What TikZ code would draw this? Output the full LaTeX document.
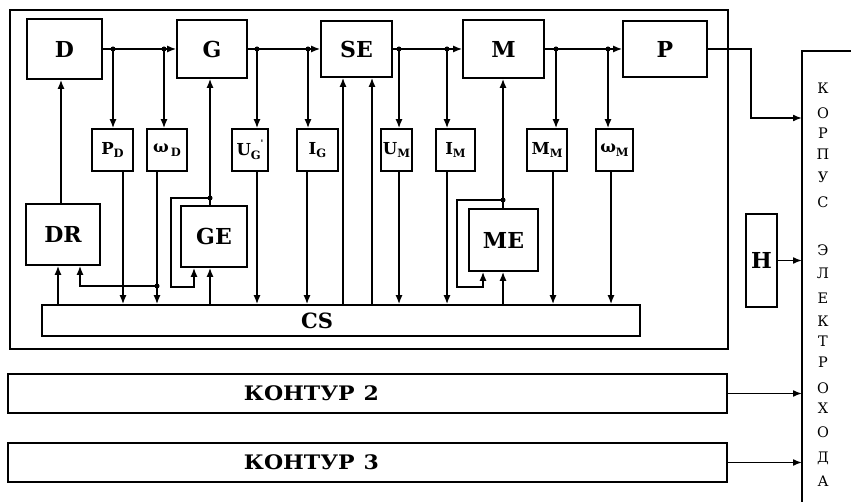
\documentclass[tikz,border=0pt]{standalone}
\usepackage{fontspec}
\setmainfont{DejaVu Serif}
\newfontfamily\lblfont{DejaVu Serif}
\newfontfamily\kontfont{DejaVu Serif}[FakeStretch=1.1]
\newfontfamily\korpfont{DejaVu Serif}
\usetikzlibrary{arrows.meta}
\newcommand\mysub[1]{\raisebox{-0.45ex}{\fontsize{11.5}{11.5}\selectfont #1}}
\tikzset{
  ln/.style={line width=1.6pt},
  arr/.style={ln, -{Latex[length=9pt,width=7pt]}},
  bigbox/.style={draw, ln, inner sep=0pt, font=\fontsize{22}{22}\selectfont\lblfont\bfseries},
  smallbox/.style={draw, ln, inner sep=0pt, minimum height=42pt, font=\fontsize{16.5}{16.5}\selectfont\lblfont\bfseries},
  longbox/.style={draw, ln, inner sep=0pt, minimum width=719pt, minimum height=39pt},
  konttext/.style={inner sep=0pt, font=\fontsize{20}{20}\selectfont\kontfont\bfseries},
  dot/.style={circle, fill, inner sep=0pt, minimum size=5pt},
  letter/.style={inner sep=0pt, anchor=base, font=\fontsize{14.5}{14.5}\selectfont\korpfont},
}
\begin{document}
\begin{tikzpicture}[x=1pt,y=-1pt]
\useasboundingbox[fill=white] (0,0) rectangle (851,502);

% outer frame of contour 1
\draw[ln] (10,10) rectangle (728,349);

% top chain
\node[bigbox, minimum width=75pt, minimum height=60pt] (D)  at (64.5,49) {D};
\node[bigbox, minimum width=70pt, minimum height=58pt] (G)  at (212,49) {G};
\node[bigbox, minimum width=71pt, minimum height=56pt] (SE) at (356.5,49) {SE};
\node[bigbox, minimum width=81pt, minimum height=58pt] (M)  at (503.5,49) {M};
\node[bigbox, minimum width=84pt, minimum height=56pt] (P)  at (665,49) {P};

% sensor boxes
\node[smallbox, minimum width=41pt] (PD) at (112.5,150) {P\mysub{D}};
\node[smallbox, minimum width=40pt] (WD) at (167,150) {ω\hspace{2pt}\mysub{D}};
\node[smallbox, minimum width=36pt] (UG) at (250,150) {U\mysub{G}\raisebox{1.1ex}{\fontsize{9}{9}\selectfont'}};
\node[smallbox, minimum width=41pt] (IG) at (317.5,150) {I\mysub{G}};
\node[smallbox, minimum width=31pt] (UM) at (396.5,150) {U\mysub{M}};
\node[smallbox, minimum width=39pt] (IM) at (455.5,150) {I\mysub{M}};
\node[smallbox, minimum width=40pt] (MM) at (547,150) {M\mysub{M}};
\node[smallbox, minimum width=37pt] (WM) at (614.5,150) {ω\mysub{M}};

% lower blocks
\node[bigbox, minimum width=74pt, minimum height=61pt] (DR) at (63,234.5) {DR};
\node[bigbox, minimum width=66pt, minimum height=61pt] (GE) at (214,236.5) {GE};
\node[bigbox, minimum width=69pt, minimum height=62pt] (ME) at (503.5,240) {ME};

% control system
\node[draw, ln, inner sep=0pt, minimum width=598pt, minimum height=31pt] (CS) at (341,320.5) {};
\node[inner sep=0pt, font=\fontsize{21}{21}\selectfont\lblfont\bfseries] (CSt) at (317,321) {CS};

% column coordinates
\coordinate (cPDo) at (123,0);
\coordinate (cWDo) at (157,0);
\coordinate (cUG)  at (257,0);
\coordinate (cIGo) at (307,0);
\coordinate (cUM)  at (399,0);
\coordinate (cIM)  at (447,0);
\coordinate (cMMo) at (553,0);
\coordinate (cWMo) at (611,0);
\coordinate (cDR1) at (58,0);
\coordinate (cDR2) at (80,0);
\coordinate (cDRD) at (61,0);
\coordinate (cSE1) at (343,0);
\coordinate (cSE2) at (372,0);

% main power chain
\draw[arr] (D.east) -- (G.west);
\draw[arr] (G.east) -- (SE.west);
\draw[arr] (SE.east) -- (M.west);
\draw[arr] (M.east) -- (P.west);

% branch dots on the chain
\node[dot] (bPD) at (113,49) {};
\node[dot] (bWD) at (164,49) {};
\node[dot] (bUG) at (257,49) {};
\node[dot] (bIG) at (308,49) {};
\node[dot] (bUM) at (399,49) {};
\node[dot] (bIM) at (447,49) {};
\node[dot] (bMM) at (556,49) {};
\node[dot] (bWM) at (608,49) {};

\draw[arr] (bPD.center) -- (PD.north -| bPD);
\draw[arr] (bWD.center) -- (WD.north -| bWD);
\draw[arr] (bUG.center) -- (UG.north -| bUG);
\draw[arr] (bIG.center) -- (IG.north -| bIG);
\draw[arr] (bUM.center) -- (UM.north -| bUM);
\draw[arr] (bIM.center) -- (IM.north -| bIM);
\draw[arr] (bMM.center) -- (MM.north -| bMM);
\draw[arr] (bWM.center) -- (WM.north -| bWM);

% sensor outputs to CS
\draw[arr] (PD.south -| cPDo) -- (CS.north -| cPDo);
\draw[arr] (WD.south -| cWDo) -- (CS.north -| cWDo);
\draw[arr] (UG.south -| cUG)  -- (CS.north -| cUG);
\draw[arr] (IG.south -| cIGo) -- (CS.north -| cIGo);
\draw[arr] (UM.south -| cUM)  -- (CS.north -| cUM);
\draw[arr] (IM.south -| cIM)  -- (CS.north -| cIM);
\draw[arr] (MM.south -| cMMo) -- (CS.north -| cMMo);
\draw[arr] (WM.south -| cWMo) -- (CS.north -| cWMo);

% DR
\draw[arr] (CS.north -| cDR1) -- (DR.south -| cDR1);
\node[dot] (bWDr) at (157,286) {};
\draw[arr] (bWDr.center) -- (bWDr -| cDR2) -- (DR.south -| cDR2);
\draw[arr] (DR.north -| cDRD) -- (D.south -| cDRD);

% GE
\node[dot] (bGE) at (210,198) {};
\coordinate (gl1) at (171,287);
\coordinate (gl2) at (194,287);
\draw[ln] (GE.north -| bGE) -- (bGE.center);
\draw[arr] (bGE.center) -- (G.south -| bGE);
\draw[arr] (bGE.center) -| (gl1) -- (gl2) -- (GE.south -| gl2);
\draw[arr] (CS.north -| bGE) -- (GE.south -| bGE);

% SE inputs
\draw[arr] (CS.north -| cSE1) -- (SE.south -| cSE1);
\draw[arr] (CS.north -| cSE2) -- (SE.south -| cSE2);

% ME
\node[dot] (bME) at (503,200) {};
\coordinate (ml1) at (457,287);
\coordinate (ml2) at (483,287);
\draw[ln] (ME.north -| bME) -- (bME.center);
\draw[arr] (bME.center) -- (M.south -| bME);
\draw[arr] (bME.center) -| (ml1) -- (ml2) -- (ME.south -| ml2);
\draw[arr] (CS.north -| bME) -- (ME.south -| bME);

% hull of the electric ship
\coordinate (kTL) at (802,51);
\coordinate (kTR) at (852,51);
\coordinate (kBL) at (802,503);
\draw[ln] (kTR) -- (kTL) -- (kBL);
\foreach \l/\y [count=\i] in {К/88,О/113,Р/133,П/154,У/177,С/202,Э/250,Л/273,Е/298,К/321,Т/341,Р/362,О/388,Х/408,О/432,Д/457,А/481}
  \node[letter] (kl\i) at (823,\y+5.5) {\l};

% P output
\coordinate (pk) at (751,118);
\draw[arr] (P.east) -| (pk) -- (pk -| kTL);

% H
\node[bigbox, minimum width=31pt, minimum height=93pt] (H) at (761.5,260.5) {H};
\draw[arr] (H.east) -- (H.east -| kTL);

% contours 2 and 3
\node[longbox] (K2) at (367.5,393.5) {};
\node[konttext] (K2t) at (311.5,393.5) {КОНТУР\hspace{0.45em}2};
\draw[arr] (K2.east) -- (K2.east -| kTL);
\node[longbox] (K3) at (367.5,462.5) {};
\node[konttext] (K3t) at (311.5,462.5) {КОНТУР\hspace{0.45em}3};
\draw[arr] (K3.east) -- (K3.east -| kTL);
\end{tikzpicture}
\end{document}
